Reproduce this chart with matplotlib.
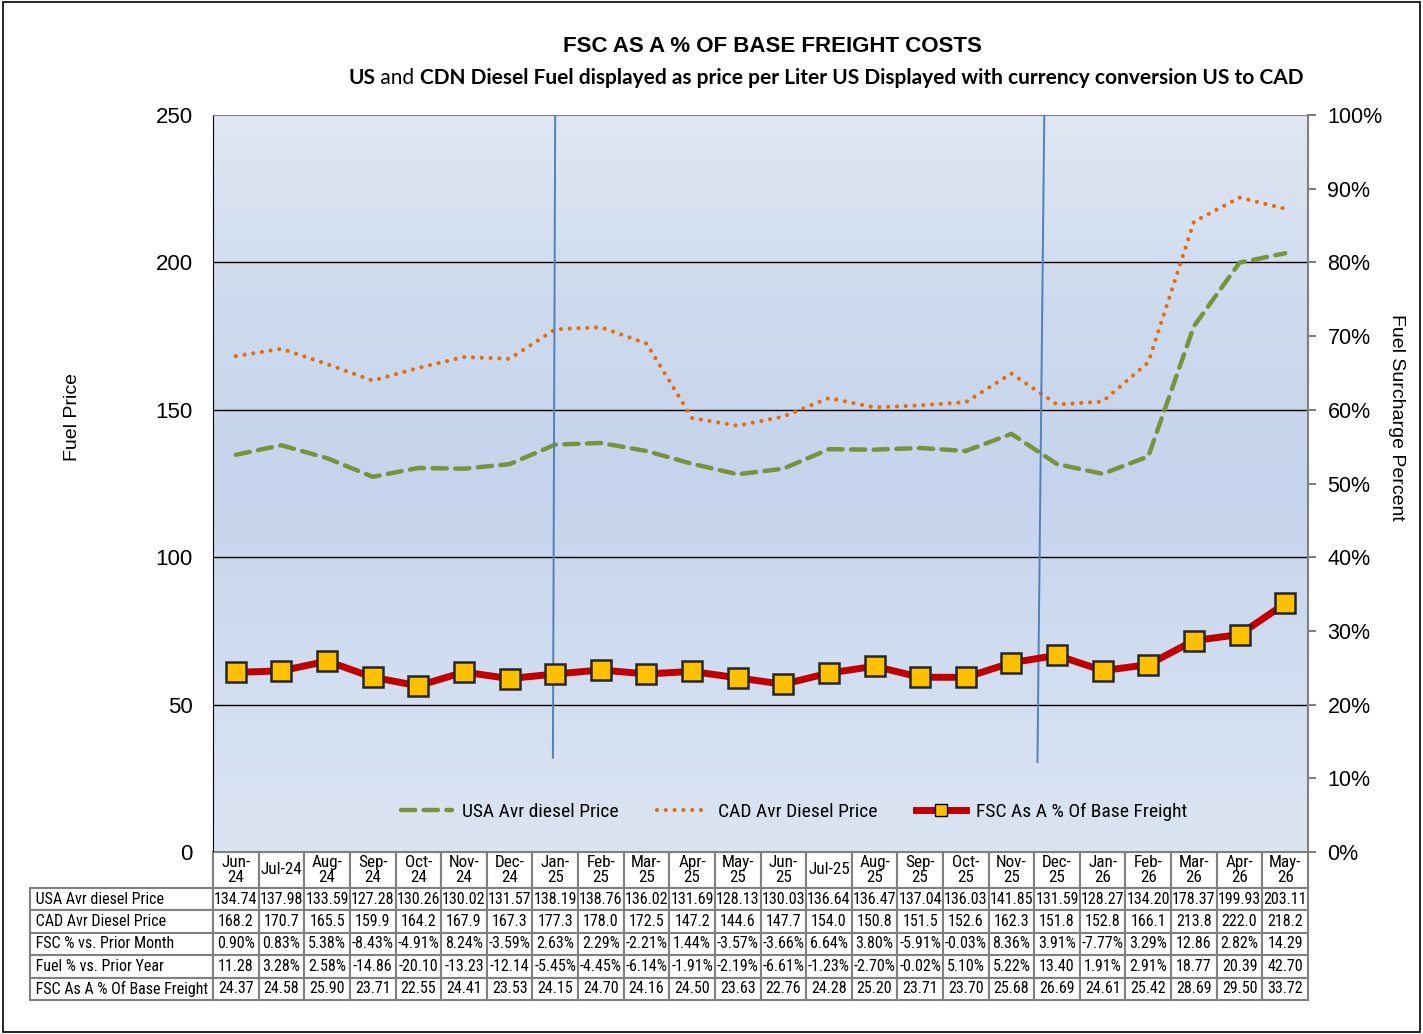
import numpy as np
import matplotlib.pyplot as plt
from matplotlib import font_manager
from matplotlib.ticker import PercentFormatter
from matplotlib.lines import Line2D
from matplotlib.patches import Rectangle

months = ["Jun-\n24", "Jul-24", "Aug-\n24", "Sep-\n24", "Oct-\n24", "Nov-\n24",
          "Dec-\n24", "Jan-\n25", "Feb-\n25", "Mar-\n25", "Apr-\n25", "May-\n25",
          "Jun-\n25", "Jul-25", "Aug-\n25", "Sep-\n25", "Oct-\n25", "Nov-\n25",
          "Dec-\n25", "Jan-\n26", "Feb-\n26", "Mar-\n26", "Apr-\n26", "May-\n26"]
usa_price = [134.74, 137.98, 133.59, 127.28, 130.26, 130.02, 131.57, 138.19,
             138.76, 136.02, 131.69, 128.13, 130.03, 136.64, 136.47, 137.04,
             136.03, 141.85, 131.59, 128.27, 134.20, 178.37, 199.93, 203.11]
cad_price = [168.2, 170.7, 165.5, 159.9, 164.2, 167.9, 167.3, 177.3, 178.0,
             172.5, 147.2, 144.6, 147.7, 154.0, 150.8, 151.5, 152.6, 162.3,
             151.8, 152.8, 166.1, 213.8, 222.0, 218.2]
fsc_prior_month = ["0.90%", "0.83%", "5.38%", "-8.43%", "-4.91%", "8.24%",
                   "-3.59%", "2.63%", "2.29%", "-2.21%", "1.44%", "-3.57%",
                   "-3.66%", "6.64%", "3.80%", "-5.91%", "-0.03%", "8.36%",
                   "3.91%", "-7.77%", "3.29%", "12.86", "2.82%", "14.29"]
fuel_prior_year = ["11.28", "3.28%", "2.58%", "-14.86", "-20.10", "-13.23",
                   "-12.14", "-5.45%", "-4.45%", "-6.14%", "-1.91%", "-2.19%",
                   "-6.61%", "-1.23%", "-2.70%", "-0.02%", "5.10%", "5.22%",
                   "13.40", "1.91%", "2.91%", "18.77", "20.39", "42.70"]
fsc_base = [24.37, 24.58, 25.90, 23.71, 22.55, 24.41, 23.53, 24.15, 24.70,
            24.16, 24.50, 23.63, 22.76, 24.28, 25.20, 23.71, 23.70, 25.68,
            26.69, 24.61, 25.42, 28.69, 29.50, 33.72]
row_labels = ["USA Avr diesel Price", "CAD Avr Diesel Price",
              "FSC % vs. Prior Month", "Fuel % vs. Prior Year",
              "FSC As A % Of Base Freight"]

plt.rcParams['font.family'] = ["Liberation Sans", "DejaVu Sans"]

# a narrow face if one is there, else shrink the regular one
installed = {f.name for f in font_manager.fontManager.ttflist}
narrow = None
for name in ["Liberation Sans Narrow", "Arial Narrow", "Roboto Condensed"]:
    if name in installed:
        narrow = name
        break
if narrow:
    tab_font, num_size, lab_size, leg_size = [narrow, "DejaVu Sans"], 11.5, 11.5, 14
else:
    tab_font, num_size, lab_size, leg_size = ["Liberation Sans", "DejaVu Sans"], 9.4, 9.8, 12

W, H = 1423, 1034
fig = plt.figure(figsize=(W / 100, H / 100), dpi=100)
fig.patches.append(Rectangle((0.002, 0.002), 0.996, 0.996, transform=fig.transFigure,
                             fill=False, edgecolor="black", linewidth=1.2))

L, R, T, B = 213, 1308, 115, 852
ax = fig.add_axes([L / W, 1 - B / H, (R - L) / W, (B - T) / H])
x = np.arange(len(months))
ax.set_xlim(-0.5, len(months) - 0.5)
ax.set_ylim(0, 250)

# background gradient
grad = np.array([[224, 231, 243], [206, 219, 238], [197, 211, 236],
                 [209, 221, 240], [219, 228, 242]]) / 255
pos = np.linspace(0, 1, 200)
img = np.stack([np.interp(pos, np.linspace(0, 1, 5), grad[:, c]) for c in range(3)], axis=-1)
ax.imshow(img[:, None, :], extent=[0, 1, 0, 1], transform=ax.transAxes,
          aspect="auto", zorder=0)
ax.set_facecolor("none")

for yv in [50, 100, 150, 200]:
    ax.axhline(yv, color="black", linewidth=1, zorder=1)

green_ls = (0, (3.2, 1.9))
orange_ls = (0, (0.01, 2.1))
ax.plot(x, usa_price, color="#77933C", linestyle=green_ls, linewidth=3.2,
        zorder=3, dash_capstyle="round")
ax.plot(x, cad_price, color="#E46C0A", linestyle=orange_ls, linewidth=3.0,
        zorder=3, dash_capstyle="round")

# hand drawn marker lines
ax.plot([7.0, 6.95], [250, 32], color="#4F81BD", linewidth=1.4, zorder=4)
ax.plot([17.72, 17.57], [250, 30.5], color="#4F81BD", linewidth=1.4, zorder=4)

ax.set_yticks([0, 50, 100, 150, 200, 250])
ax.tick_params(axis="y", labelsize=16, length=0, pad=14.5)
ax.set_xticks([])
ax.spines["left"].set_color("black")
ax.spines["top"].set_color("#808080")
ax.spines["right"].set_visible(False)
ax.spines["bottom"].set_color("#808080")
ax.set_ylabel("Fuel Price", fontsize=14)
ax.yaxis.set_label_coords(-0.121, 0.59)

ax2 = ax.twinx()
ax2.set_ylim(0, 1)
ax2.yaxis.set_major_formatter(PercentFormatter(1.0, decimals=0))
ax2.set_yticks(np.linspace(0, 1, 11))
ax2.tick_params(axis="y", labelsize=15.5, color="#808080", length=6, width=1.5, pad=8)
ax2.spines["right"].set_color("#808080")
ax2.spines["right"].set_linewidth(1.5)
for s in ["left", "top", "bottom"]:
    ax2.spines[s].set_visible(False)
ax2.plot(x, np.array(fsc_base) / 100, color="#C00000", linewidth=5,
         marker="s", markersize=15, markerfacecolor="#FFC000",
         markeredgecolor="#262626", markeredgewidth=1.8, zorder=5)
ax2.set_ylabel("Fuel Surcharge Percent", fontsize=14, rotation=-90)
ax2.yaxis.set_label_coords(1.089, 0.59)

handles = [Line2D([], [], color="#77933C", linestyle=green_ls, linewidth=3.2,
                  dash_capstyle="round"),
           Line2D([], [], color="#E46C0A", linestyle=orange_ls, linewidth=3.0,
                  dash_capstyle="round"),
           Line2D([], [], color="#C00000", linewidth=5, marker="s", markersize=8,
                  markerfacecolor="#FFC000", markeredgecolor="black")]
ax2.legend(handles, ["USA Avr diesel Price", "CAD Avr Diesel Price",
                     "FSC As A % Of Base Freight"],
           loc="center", bbox_to_anchor=(0.531, 0.054), ncol=3, frameon=False,
           prop={"family": tab_font, "size": leg_size}, handlelength=2.6,
           handletextpad=0.5, columnspacing=2.0)

# data table below the plot
cell_text = [[""] + months,
             [" " + row_labels[0]] + [f"{v:.2f}" for v in usa_price],
             [" " + row_labels[1]] + [f"{v:.1f}" for v in cad_price],
             [" " + row_labels[2]] + fsc_prior_month,
             [" " + row_labels[3]] + fuel_prior_year,
             [" " + row_labels[4]] + [f"{v:.2f}" for v in fsc_base]]
tab_left = 30
tb = ax.table(cellText=cell_text, cellLoc="center",
              colWidths=[(L - tab_left) / (R - L)] + [1 / 24] * 24,
              bbox=[(tab_left - L) / (R - L), -148 / (B - T),
                    (R - tab_left) / (R - L), 148 / (B - T)])
tb.auto_set_font_size(False)
for (r, c), cell in tb.get_celld().items():
    cell.set_height(36 if r == 0 else 22.4)
    cell.set_edgecolor("#808080")
    cell.set_linewidth(1.5)
    txt = cell.get_text()
    txt.set_fontfamily(tab_font)
    txt.set_fontsize(lab_size if c == 0 else num_size)
    cell.PAD = 0.01
    if c == 0:
        txt.set_horizontalalignment("left")
        cell._loc = "left"
    if r == 0 and c == 0:
        cell.visible_edges = ""
    if r == 0 and c > 0:
        txt.set_linespacing(1.05)
        txt.set_fontsize(num_size + 0.8)

# titles
fig.text(772 / W, 1 - 47 / H, "FSC AS A % OF BASE FREIGHT COSTS", ha="center",
         va="center", fontsize=16, fontweight="bold")
sub_font = ["Lato", "DejaVu Sans"]
sub_y = 1 - 78 / H
t3 = fig.text(1303 / W, sub_y,
              "CDN Diesel Fuel displayed as price per Liter US Displayed with currency conversion US to CAD",
              ha="right", va="center", fontsize=15, fontweight="bold", family=sub_font)
fig.canvas.draw()
rend = fig.canvas.get_renderer()
t2 = fig.text(t3.get_window_extent(rend).x0 / W, sub_y, " and ", fontsize=15,
              ha="right", va="center", family=sub_font)
fig.text(t2.get_window_extent(rend).x0 / W, sub_y, "US", fontsize=15,
         fontweight="bold", ha="right", va="center", family=sub_font)

fig.savefig("out.png", dpi=100)
